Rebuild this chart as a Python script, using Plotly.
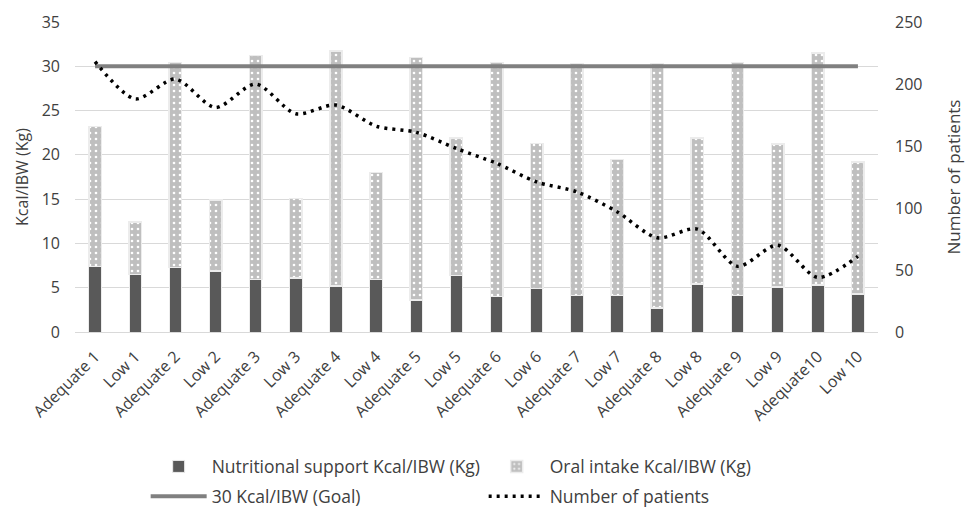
import plotly.graph_objects as go

categories = ["Adequate 1", "Low 1", "Adequate 2", "Low 2", "Adequate 3", "Low 3",
              "Adequate 4", "Low 4", "Adequate 5", "Low 5", "Adequate 6", "Low 6",
              "Adequate 7", "Low 7", "Adequate 8", "Low 8", "Adequate 9", "Low 9",
              "Adequate10", "Low 10"]
nutritional_support = [7.4, 6.5, 7.3, 6.9, 5.9, 6.1, 5.2, 5.9, 3.6, 6.4,
                       4.0, 4.9, 4.1, 4.1, 2.7, 5.4, 4.1, 5.1, 5.3, 4.3]
total_intake = [23.2, 12.4, 30.4, 14.9, 31.2, 15.1, 31.7, 18.0, 31.0, 21.9,
                30.4, 21.3, 30.3, 19.5, 30.3, 21.9, 30.4, 21.2, 31.5, 19.2]
oral_intake = [round(t - n, 1) for t, n in zip(total_intake, nutritional_support)]
goal = [30] * len(categories)
patients = [218, 188, 204, 181, 200, 176, 183, 166, 161, 148,
            136, 121, 113, 97, 76, 83, 53, 70, 44, 61]

FONT = "Open Sans"
TXT = "#404040"

fig = go.Figure()
fig.add_trace(go.Bar(
    x=categories, y=nutritional_support, name="Nutritional support Kcal/IBW (Kg)",
    marker=dict(color="#595959", line=dict(color="#ececec", width=1)),
    width=0.31, legend="legend"))
fig.add_trace(go.Bar(
    x=categories, y=oral_intake, name="Oral intake Kcal/IBW (Kg)",
    marker=dict(color="#bfbfbf", line=dict(color="#ececec", width=1.5),
                pattern=dict(shape=".", fgcolor="#ffffff", bgcolor="#bfbfbf",
                             size=6, solidity=0.15, fillmode="replace")),
    width=0.31, legend="legend"))
fig.add_trace(go.Scatter(
    x=categories, y=goal, name="30 Kcal/IBW (Goal)", mode="lines",
    line=dict(color="#808080", width=4), legend="legend2"))
fig.add_trace(go.Scatter(
    x=categories, y=patients, name="Number of patients", mode="lines",
    line=dict(color="#000000", width=3.5, dash="3px,5px", shape="spline", smoothing=0.8),
    yaxis="y2", legend="legend2"))

fig.update_layout(
    width=965, height=507,
    margin=dict(l=75, r=87, t=22, b=175, autoexpand=False),
    barmode="stack",
    plot_bgcolor="white", paper_bgcolor="white",
    font=dict(family=FONT, size=16, color=TXT),
    xaxis=dict(type="category", tickangle=-45, showgrid=False, showline=True,
               linecolor="#d9d9d9", linewidth=1, ticks="", tickfont=dict(size=16),
               ticklabelstandoff=8, range=[-0.5, 19.5]),
    yaxis=dict(range=[0, 35], dtick=5, showgrid=True, gridcolor="#d9d9d9", gridwidth=1,
               zeroline=False, ticks="", tickfont=dict(size=16), ticklabelstandoff=14,
               title=dict(text="Kcal/IBW (Kg)", font=dict(size=16), standoff=9)),
    yaxis2=dict(range=[0, 250], dtick=50, overlaying="y", side="right", showgrid=False,
                zeroline=False, ticks="", tickfont=dict(size=16), ticklabelstandoff=16,
                title=dict(text="Number of patients", font=dict(size=17), standoff=26)),
    legend=dict(orientation="h", x=0.088, xanchor="left", y=-0.434, yanchor="middle",
                entrywidth=267, entrywidthmode="pixels", font=dict(size=17.5), itemwidth=56,
                bgcolor="rgba(0,0,0,0)", traceorder="normal"),
    legend2=dict(orientation="h", x=0.088, xanchor="left", y=-0.53, yanchor="middle",
                 entrywidth=267, entrywidthmode="pixels", font=dict(size=17.5), itemwidth=56,
                 bgcolor="rgba(0,0,0,0)", traceorder="normal"),
)

fig.write_html("out.html", config={"displayModeBar": False},
               post_script="document.body.style.margin='0';")
